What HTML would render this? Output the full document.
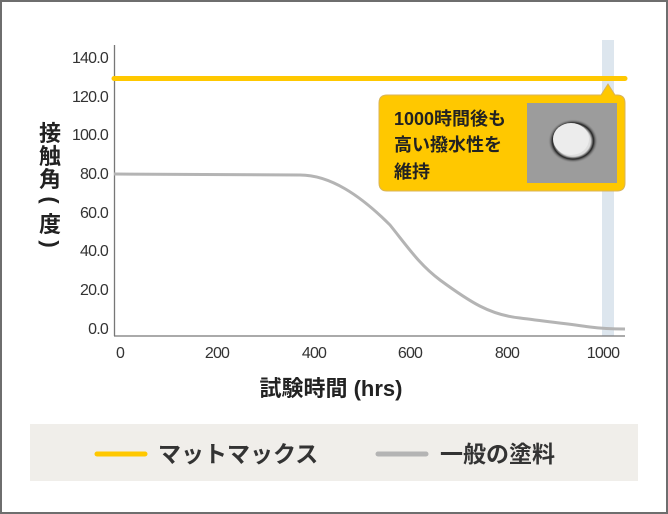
<!DOCTYPE html>
<html><head><meta charset="utf-8"><style>
body{margin:0;width:668px;height:514px;overflow:hidden;background:#fff}
svg{display:block}
text{font-family:"Liberation Sans","Noto Sans CJK JP",sans-serif}
</style></head><body>
<svg width="668" height="514" viewBox="0 0 668 514">
<defs>
<radialGradient id="dg" cx="50%" cy="50%" r="50%">
<stop offset="0" stop-color="#f4f4f4"/><stop offset="0.7" stop-color="#dcdcdc"/><stop offset="0.82" stop-color="#222"/><stop offset="1" stop-color="#9c9c9c" stop-opacity="0"/>
</radialGradient>
</defs>
<rect x="1" y="1" width="666" height="512" fill="#fff" stroke="#6e6e6e" stroke-width="2"/>
<rect x="602" y="40" width="12" height="296" fill="#dde6ee"/>
<line x1="114.5" y1="45" x2="114.5" y2="336" stroke="#777" stroke-width="1.3"/>
<line x1="114" y1="336" x2="625" y2="336" stroke="#777" stroke-width="1.3"/>
<g font-size="16" fill="#333" text-anchor="end" letter-spacing="-0.8">
<text x="108" y="63">140.0</text><text x="108" y="102">120.0</text><text x="108" y="140">100.0</text>
<text x="108" y="179">80.0</text><text x="108" y="218">60.0</text><text x="108" y="256">40.0</text>
<text x="108" y="295">20.0</text><text x="108" y="334">0.0</text>
</g>
<g font-size="16" fill="#333" text-anchor="middle" letter-spacing="-0.8">
<text x="120" y="358">0</text><text x="217" y="358">200</text><text x="314" y="358">400</text>
<text x="410" y="358">600</text><text x="507" y="358">800</text><text x="603" y="358">1000</text>
</g>
<g font-size="22" font-weight="bold" fill="#222" text-anchor="middle">
<text x="50" y="141">接</text><text x="50" y="164">触</text><text x="50" y="187">角</text>
<text x="50" y="207" transform="rotate(90 50 200)">(</text>
<text x="50" y="232">度</text>
<text x="50" y="251" transform="rotate(90 50 244)">)</text>
</g>
<text x="331" y="396" font-size="22" font-weight="bold" fill="#222" text-anchor="middle">試験時間 (hrs)</text>
<path d="M114 174 L300 175 C330 175 360 195 390 225 C410 250 420 265 440 280 C470 302 490 315 520 318 C550 322 570 324 590 327 C605 329 615 329 625 329" fill="none" stroke="#b4b4b4" stroke-width="3"/>
<line x1="114" y1="78.5" x2="625" y2="78.5" stroke="#ffc800" stroke-width="5" stroke-linecap="round"/>
<path d="M387 95 H601 L608 84 L615 95 H617 Q625 95 625 103 V183 Q625 191 617 191 H387 Q379 191 379 183 V103 Q379 95 387 95 Z" fill="#ffc800" stroke="#d8b35a" stroke-width="1"/>
<rect x="527" y="103" width="90" height="80" fill="#9c9c9c"/>
<ellipse cx="573" cy="141" rx="25" ry="22" fill="url(#dg)"/>
<ellipse cx="571" cy="139" rx="18" ry="16" fill="#ececec"/>
<g font-size="18" font-weight="bold" fill="#222">
<text x="394" y="125">1000時間後も</text><text x="394" y="151">高い撥水性を</text><text x="394" y="178">維持</text>
</g>
<rect x="30" y="424" width="608" height="57" fill="#f0eeea"/>
<line x1="97" y1="454" x2="145" y2="454" stroke="#ffc800" stroke-width="5" stroke-linecap="round"/>
<text x="158" y="462" font-size="23" font-weight="bold" fill="#333">マットマックス</text>
<line x1="378" y1="454" x2="426" y2="454" stroke="#b4b4b4" stroke-width="5" stroke-linecap="round"/>
<text x="440" y="462" font-size="23" font-weight="bold" fill="#333">一般の塗料</text>
</svg>
</body></html>
